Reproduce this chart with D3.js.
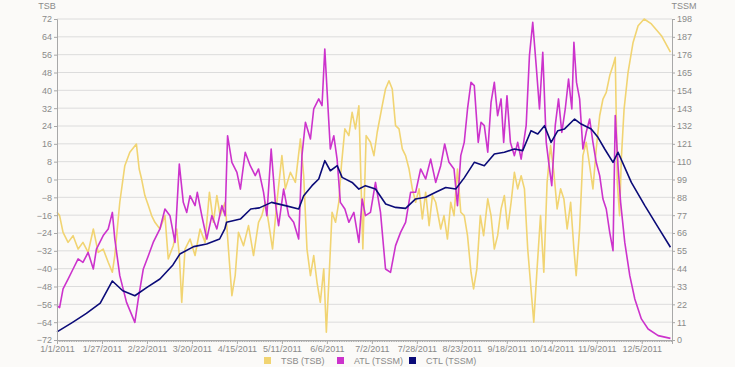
<!DOCTYPE html>
<html>
<head>
<meta charset="utf-8">
<script src="https://cdn.jsdelivr.net/npm/d3@7"></script>
<style>
  body { margin: 0; background: #fbfaf8; }
  svg { display: block; font-family: "Liberation Sans", Arial, sans-serif; }
  .tick text { fill: #8a8a8a; font-size: 9px; }
  .domain, .tick line { stroke: #a8a8a8; }
</style>
</head>
<body>
<div id="chart"></div>
<script>
// [days since 1/1/2011, value]
const tsbSeries = [[0,-14.7],[1.5,-16.2],[3.5,-23.7],[6.4,-28.2],[9.3,-25.2],[12.2,-31.2],[15,-28.2],[18,-32.7],[21,-22.2],[23.8,-32.7],[26.7,-31.2],[29.6,-37.1],[32,-41.6],[33.4,-34.1],[36.3,-10.2],[39.2,6.2],[42.1,12.2],[45.9,15.9],[47.5,4.7],[48.9,0.2],[50.8,-7.2],[52.8,-11.7],[54.7,-16.2],[56.6,-19.2],[59.5,-22.2],[62.4,-16.2],[64.3,-35.6],[67.2,-29.7],[69.2,-22.2],[70.7,-34.1],[72.1,-55.1],[74,-31.2],[76.9,-26.7],[79.8,-34.1],[82.7,-22.2],[85.6,-28.2],[88.1,-5.7],[90.4,-19.2],[92.4,-7.2],[94.3,-16.2],[97.2,-10.2],[99.1,-31.2],[101.1,-52.1],[103,-43.1],[104.9,-23.7],[107.8,-29.7],[110.7,-20.7],[113.6,-34.1],[116.5,-19.2],
  [118.4,-16.2],[120.4,-10.2],[122.3,-19.2],[124.6,-31.2],[127.1,-10.2],[130,10.7],[132,-4.2],[134.9,3.2],[137.8,-1.3],[140.7,18.2],[142.6,1.7],[144.5,-31.2],[146.5,-43.1],[148.4,-34.1],[150.3,-46.1],[152.2,-55.1],[154.2,-40.1],[155.7,-68.5],[157.5,-40.1],[159,-14.7],[161,-19.2],[162.9,-10.2],[164.4,6.2],[166.4,22.7],[168.7,19.7],[170.6,30.1],[172.5,22.7],[174.5,33.1],[176.8,-31.2],[178.7,19.7],[181.2,16.7],[183.2,10.7],[185.1,21.2],[188,33.1],[189.9,40.6],[191.9,44.3],[193.8,40.6],[195.7,24.2],[197.7,22.7],[199.6,13.7],[201.5,10.7],[203.5,4.7],[205.4,-4.2],[207.3,-10.2],[209.3,-4.2],[211.2,-17.7],[213.1,-5.7],[215.1,-20.7],[217,-7.2],[218.9,-10.2],[221.8,-22.2],[223.7,-16.2],[225.7,-26.7],[227.6,-10.2],[229.5,-16.2],[231.5,4.7],[233.4,-14.7],
  [235.4,-16.2],[237.3,-25.2],[239.3,-41.6],[240.8,-49.1],[242.7,-40.1],[244.7,-16.2],[246.6,-25.2],[249,-8.7],[250.9,-16.2],[252.8,-31.2],[254.7,-25.2],[256.7,-13.2],[258.6,-7.2],[260.5,-22.2],[262.5,-10.2],[264.4,3.2],[266.3,-4.2],[268.3,1.7],[270.2,-4.2],[272.1,-31.2],[274,-49.1],[275.6,-64],[277.5,-40.1],[279.5,-16.2],[281.4,-41.6],[283.3,-1.3],[285.3,15.2],[287.2,3.2],[289.1,-13.2],[291.1,-4.2],[293,-8.7],[294.9,-22.2],[296.9,-10.2],[298.8,-31.2],[300.1,-43.1],[302.1,-22.2],[304,10.7],[305.9,16.7],[307.9,6.2],[309.8,-4.2],[311.7,13.7],[313.7,28.6],[315.6,36.1],[317.5,39.1],[319.5,46.6],[321.4,51.1],[322.7,54.8],[323.9,-1.3],[325.2,-16.2],[326.2,9.2],[327.8,31.6],[330.1,48.1],[333,61.5],[335.9,69],[339.4,72],[343.6,69.8],[349.4,64.5],[354.6,57.1]];

const atlSeries = [[0,21.2],[1.5,20],[3.5,31.5],[6.4,37.6],[9.3,43.8],[12.2,50],[15,47.9],[18,54],[21,43.8],[22.8,56.1],[26.7,64.4],[29.6,68.5],[32,78.7],[33.4,62.3],[36.3,39.7],[40.2,23.2],[45,10.9],[47,25.3],[49.9,43.8],[52.8,52],[55.6,60.2],[59.5,68.5],[62.4,80.8],[65.3,76.7],[68.2,60.2],[70.7,108.5],[73,84.9],[75,78.7],[76.9,89],[79.8,82.9],[81.1,91.1],[83.7,76.7],[86.6,62.3],[89.5,76.7],[92.4,68.5],[95.3,82.9],[97.2,76.7],[98.6,126],[101.1,109.6],[104,103.4],[106,93.1],[108.8,115.8],[111.7,107.5],[114.6,101.4],
  [116.5,105.5],[119.4,91.1],[121.3,76.7],[123.8,117.8],[126.2,84.9],[128.1,70.5],[131,93.1],[133.9,76.7],[136.8,72.6],[139.7,62.3],[141.6,113.7],[143.6,134.3],[146.5,124],[148.4,142.5],[151.3,148.7],[153.2,144.6],[154.8,179.5],[156.7,142.5],[158,117.8],[160,126],[161.9,111.6],[163.8,84.9],[166.4,80.8],[168.7,72.6],[171.6,78.7],[174.5,60.2],[176.4,87],[178.3,76.7],[181.2,78.7],[184.1,97.2],[187,78.7],[189.9,43.8],[192.8,41.7],[195.7,58.2],[198.6,66.4],[201.5,72.6],[204.4,91.1],[207.3,91.1],[210.2,105.5],[213.1,99.3],[216,111.6],[218.9,97.2],[221.8,107.5],[224.1,120.9],[226.6,109.6],[229.5,105.5],[231.5,82.9],[233.4,113.7],
  [235.4,121.9],[237.3,142.5],[239.3,158.9],[241.2,156.9],[243.5,121.9],[245.1,134.3],[247,132.2],[249,115.8],[250.9,146.6],[252.8,158.9],[254.7,138.4],[256.7,148.7],[258.2,121.9],[260.1,150.7],[262.1,121.9],[264.4,113.7],[266.3,121.9],[268.3,111.6],[271.2,132.2],[273.1,175.4],[275,195.9],[277,169.2],[278.9,142.5],[280.8,177.4],[282.8,121.9],[284.7,105.5],[286,95.2],[288,132.2],[289.9,148.7],[291.8,128.1],[293.8,142.5],[295.7,161],[297.6,142.5],[298.8,183.6],[300.3,158.9],[302.1,148.7],[304,117.8],[305.9,128.1],[307.9,136.3],[309.8,121.9],[311.7,109.6],[313.7,101.4],[315.6,86.9],[317.5,80.8],[319.5,66.4],[321.4,55.1],[322.7,138.4],[324.3,107.5],[325.8,84.9],[328.2,60.2],[331.1,39.7],[334,25.3],[337.8,13],[341.7,6.8],[347.5,2.7],[354.6,1]];

const ctlSeries = [[0,5],[9,10.9],[17,16.4],[25,22.8],[32,36.4],[38,30.4],[45,27.3],[52,32.5],[59.5,37.6],[67,46.3],[71,53],[79,57.6],[86.5,59.2],[94,62.3],[97,68.5],[98,72.6],[106,74.6],[112,80.8],[117,81.5],[124,84.9],[132,82.9],[139.7,80.8],[142.6,89],[147.4,95.2],[151.3,99.3],[154.8,110.6],[158,104.4],[162,107.5],[164.8,100.3],[170.6,97.2],[174.5,93.1],[178.3,95.2],[184.1,93.1],[190,83.9],[195.7,81.8],[201.5,81.2],[207.3,87],[213.1,88],[218.9,91.1],[224.7,94.1],[230.5,93.1],[235.4,100],[241.2,109.6],[247,107.5],[252.8,114.7],[258.6,115.8],[264.4,117.8],[269.2,116.8],[274,129.1],[277.9,127.1],[281.8,132.2],[285.6,121.9],[289.5,129.1],[293.4,130.2],[299.2,136.3],[303,133.2],[308.8,130.2],[312.7,125],[316.6,117.8],[321.4,109.6],[324.3,115.8],[332,97.2],[339.8,82.9],[347.5,69.5],[354.6,57.2]];

const tickLabels = ["1/1/2011","1/27/2011","2/22/2011","3/20/2011","4/15/2011","5/11/2011","6/6/2011","7/2/2011","7/28/2011","8/23/2011","9/18/2011","10/14/2011","11/9/2011","12/5/2011"];
const tsbTicks = [-72,-64,-56,-48,-40,-32,-24,-16,-8,0,8,16,24,32,40,48,56,64,72];
const tssmTicks = [0,11,22,33,44,55,66,77,88,99,110,121,132,143,154,165,176,187,198];
const legendNames = ["TSB (TSB)", "ATL (TSSM)", "CTL (TSSM)"];
const colors = ["#f1d472", "#cc33cc", "#0b0b78"];

const width = 735, height = 367;
const plot = {left: 57, right: 672, top: 19, bottom: 340};
const start = new Date(2011, 0, 1);
const parseTick = d3.timeParse("%m/%d/%Y");

function dayToDate(d) {
    return new Date(start.getTime() + d * 864e5);
}

const svg = d3.select("#chart").append("svg")
    .attr("width", width)
    .attr("height", height);

const x = d3.scaleTime()
    .domain([start, dayToDate(355.5)])
    .range([plot.left, plot.right]);
const yLeft = d3.scaleLinear().domain([-72, 72]).range([plot.bottom, plot.top]);
const yRight = d3.scaleLinear().domain([0, 198]).range([plot.bottom, plot.top]);

// horizontal grid
svg.append("g")
    .selectAll("line")
    .data(tsbTicks.slice(1))
    .enter()
    .append("line")
    .attr("x1", plot.left)
    .attr("x2", plot.right)
    .attr("y1", d => yLeft(d))
    .attr("y2", d => yLeft(d))
    .attr("stroke", "#dcdcdc")
    .attr("stroke-width", 1);

const lineLeft = d3.line().x(d => x(dayToDate(d[0]))).y(d => yLeft(d[1]));
const lineRight = d3.line().x(d => x(dayToDate(d[0]))).y(d => yRight(d[1]));

// draw the three series in legend order
[[tsbSeries, lineLeft], [atlSeries, lineRight], [ctlSeries, lineRight]].forEach(function(s, i) {
    svg.append("path")
        .datum(s[0])
        .attr("d", s[1])
        .attr("fill", "none")
        .attr("stroke", colors[i])
        .attr("stroke-width", 1.6)
        .attr("stroke-linejoin", "round");
});

// axes
svg.append("g")
    .attr("transform", "translate(" + plot.left + ",0)")
    .call(d3.axisLeft(yLeft).tickValues(tsbTicks).tickSize(3).tickPadding(2));

svg.append("g")
    .attr("transform", "translate(" + plot.right + ",0)")
    .call(d3.axisRight(yRight).tickValues(tssmTicks).tickSize(3).tickPadding(2));

// minor daily ticks on the x axis
svg.append("g")
    .attr("transform", "translate(0," + plot.bottom + ")")
    .call(d3.axisBottom(x).ticks(d3.timeDay.every(1)).tickSize(2).tickFormat(""))
    .call(g => g.selectAll(".tick line").attr("stroke", "#c4c4c4"));

svg.append("g")
    .attr("transform", "translate(0," + plot.bottom + ")")
    .call(d3.axisBottom(x)
        .tickValues(tickLabels.map(t => parseTick(t)))
        .tickFormat((d, i) => tickLabels[i])
        .tickSize(4).tickPadding(2));

svg.selectAll(".domain").attr("stroke", "#a8a8a8");

// axis titles
svg.append("text")
    .attr("x", 47).attr("y", 9)
    .attr("text-anchor", "middle")
    .attr("font-size", 9)
    .attr("fill", "#8a8a8a")
    .text("TSB");
svg.append("text")
    .attr("x", 684).attr("y", 9)
    .attr("text-anchor", "middle")
    .attr("font-size", 9)
    .attr("fill", "#8a8a8a")
    .text("TSSM");

// legend
const legendX = [264, 337, 409];
const legend = svg.append("g").selectAll("g")
    .data(legendNames)
    .enter()
    .append("g")
    .attr("transform", (d, i) => "translate(" + legendX[i] + ",357)");
legend.append("rect")
    .attr("width", 7).attr("height", 7)
    .attr("fill", (d, i) => colors[i]);
legend.append("text")
    .attr("x", 17).attr("y", 7)
    .attr("font-size", 9)
    .attr("fill", "#8a8a8a")
    .text(d => d);
</script>
</body>
</html>
